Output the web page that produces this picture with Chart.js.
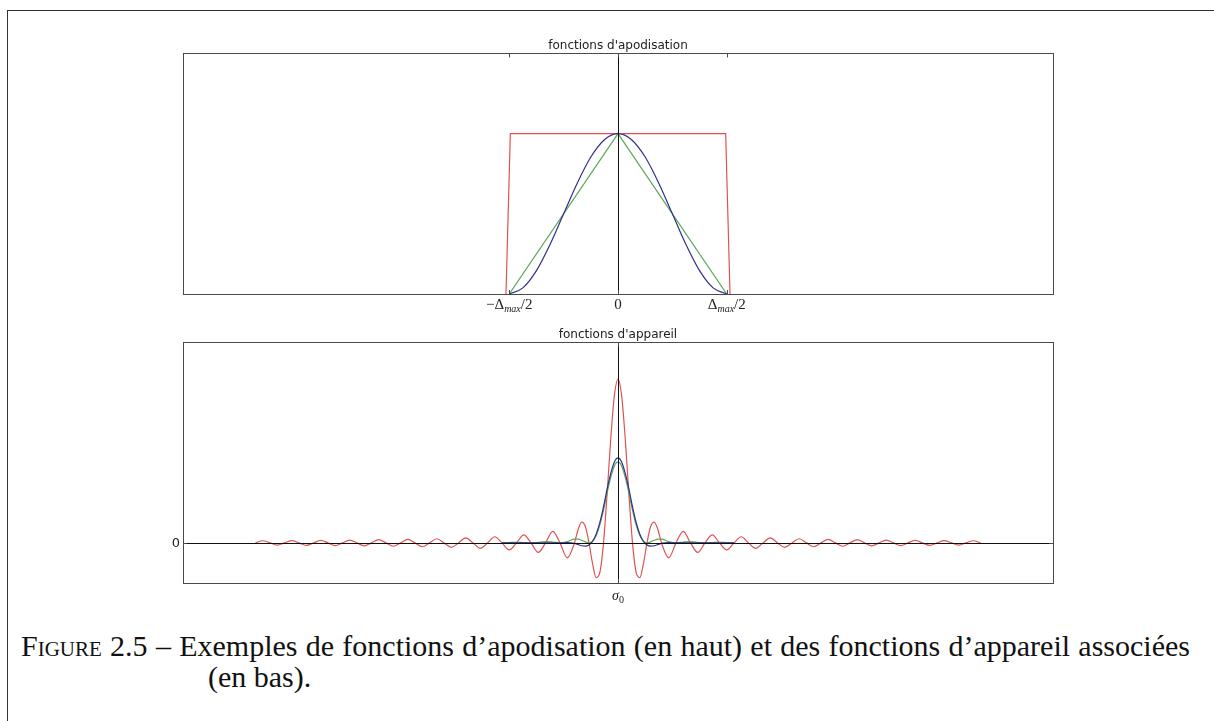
<!DOCTYPE html>
<html lang="fr">
<head>
<meta charset="utf-8">
<title>fonctions d'apodisation / fonctions d'appareil</title>
<script src="https://cdn.jsdelivr.net/npm/chart.js@4.4.1/dist/chart.umd.min.js"></script>
<style>
  html, body { margin: 0; padding: 0; background: #fff; }
  body { width: 1214px; height: 721px; position: relative; overflow: hidden; }
  .page { position: absolute; left: 7px; top: 10px; right: -10px; bottom: -10px;
          border-left: 1px solid #333; border-top: 1px solid #333; }
  canvas { position: absolute; left: 0; }
  #apoChart { top: 0; }
  #appChart { top: 320px; }
  .caption { position: absolute; left: 21px; top: 630px; width: 1169px; box-sizing: border-box;
             padding-left: 187px; text-indent: -187px; text-align: justify;
             font-family: 'Liberation Serif', 'Times New Roman', serif; font-size: 30px;
             line-height: 31px; color: #111; }
  .sc { font-variant: small-caps; }
</style>
</head>
<body>
<div class="page"></div>
<canvas id="apoChart" width="1214" height="320"></canvas>
<canvas id="appChart" width="1214" height="300"></canvas>
<div class="caption"><span class="sc">Figure</span> 2.5 – Exemples de fonctions d’apodisation (en haut) et des fonctions d’appareil associées (en bas).</div>

<script>
// ── TOP : apodisation functions (x in units of Δmax/2) ──
const rectX = [-1.03, -0.99, 0.99, 1.03];
const rectY = [0, 1, 1, 0];
const triX  = [-1, 0, 1];
const triY  = [0, 1, 0];
const hannX = [-1, -0.875, -0.75, -0.625, -0.5, -0.375, -0.25, -0.125, 0,
               0.125, 0.25, 0.375, 0.5, 0.625, 0.75, 0.875, 1];
const hannY = [0, 0.038, 0.146, 0.309, 0.5, 0.691, 0.854, 0.962, 1,
               0.962, 0.854, 0.691, 0.5, 0.309, 0.146, 0.038, 0];

const apoTickVals   = [-1, 0, 1];
const apoTickLabels = [[['−Δ','n'],['max','s'],['/2','n']], [['0','n']], [['Δ','n'],['max','s'],['/2','n']]];

// ── BOTTOM : instrument functions ──
const sincU = [-25,-24.5,-24,-23.5,-23,-22.5,-22,-21.5,-21,-20.5,-20,-19.5,-19,-18.5,-18,-17.5,-17,-16.5,-16,-15.5,
               -15,-14.5,-14,-13.5,-13,-12.5,-12,-11.5,-11,-10.5,-10,-9.5,-9,-8.5,-8,-7.5,-7,-6.5,-6,-5.5,
               -5,-4.5,-4,-3.5,-3,
               -2.75,-2.5,-2.25,-2,-1.75,-1.5,-1.25,-1,-0.75,-0.5,-0.25,0,0.25,0.5,0.75,1,1.25,1.5,1.75,2,2.25,2.5,2.75,
               3,3.5,4,4.5,5,5.5,6,6.5,7,7.5,8,8.5,9,9.5,10,10.5,11,11.5,12,12.5,
               13,13.5,14,14.5,15,15.5,16,16.5,17,17.5,18,18.5,19,19.5,20,20.5,21,21.5,22,22.5,
               23,23.5,24,24.5,25];
const sincRect = [0,0.026,0,-0.027,0,0.028,0,-0.030,0,0.031,0,-0.033,0,0.034,0,-0.036,0,0.039,0,-0.041,
                  0,0.044,0,-0.047,0,0.051,0,-0.055,0,0.061,0,-0.067,0,0.075,0,-0.085,0,0.098,0,-0.116,
                  0,0.141,0,-0.182,0,
                  0.164,0.255,0.200,0,-0.257,-0.424,-0.360,0,0.600,1.273,1.801,2.0,1.801,1.273,0.600,0,-0.360,-0.424,-0.257,0,0.200,0.255,0.164,
                  0,-0.182,0,0.141,0,-0.116,0,0.098,0,-0.085,0,0.075,0,-0.067,0,0.061,0,-0.055,0,0.051,
                  0,-0.047,0,0.044,0,-0.041,0,0.039,0,-0.036,0,0.034,0,-0.033,0,0.031,0,-0.030,0,0.028,
                  0,-0.027,0,0.026,0];

const coreU = [-8,-7.5,-7,-6.5,-6,-5.5,-5,-4.5,-4,-3.5,-3,
               -2.75,-2.5,-2.25,-2,-1.75,-1.5,-1.25,-1,-0.75,-0.5,-0.25,0,0.25,0.5,0.75,1,1.25,1.5,1.75,2,2.25,2.5,2.75,
               3,3.5,4,4.5,5,5.5,6,6.5,7,7.5,8];
const hannFT = [0,0,0,0,0,0,0,0,0,0.004,-0.005,
                -0.02,-0.035,-0.04,-0.025,0.02,0.11,0.25,0.44,0.66,0.85,0.99,1.04,0.99,0.85,0.66,0.44,0.25,0.11,0.02,-0.025,-0.04,-0.035,-0.02,
                -0.005,0.004,0,0,0,0,0,0,0,0,0];
const triFT  = [0,0.004,0.008,0.004,0,0.007,0.016,0.010,0,0.016,0.045,
                0.045,0.032,0.012,0,0.02,0.09,0.22,0.40,0.61,0.80,0.94,0.99,0.94,0.80,0.61,0.40,0.22,0.09,0.02,0,0.012,0.032,0.045,
                0.045,0.016,0,0.010,0.016,0.007,0,0.004,0.008,0.004,0];

const appTickVals    = [0];
const appTickLabels  = [[['σ','i'],['0','d']]];
const appYTickVals   = [0];
const appYTickLabels = ['0'];

const RED   = 'rgb(222,82,82)';
const GREEN = 'rgb(92,165,92)';
const BLUE  = 'rgb(48,48,140)';

const pts = (xs, ys) => xs.map((x, i) => ({ x, y: ys[i] }));

// ── draws "math" tick labels made of segments ──
function drawMath(ctx, segs, cx, baseY, size) {
  const fontOf = st => {
    const sz = (st === 's' || st === 'd') ? Math.round(size * 0.68) : size;
    const it = (st === 'i' || st === 's') ? 'italic ' : '';
    return `${it}${sz}px "Liberation Serif", serif`;
  };
  let w = 0;
  const ws = segs.map(([t, st]) => { ctx.font = fontOf(st); const m = ctx.measureText(t).width; w += m; return m; });
  let x = cx - w / 2;
  ctx.textAlign = 'left';
  ctx.textBaseline = 'alphabetic';
  segs.forEach(([t, st], i) => {
    ctx.font = fontOf(st);
    const dy = (st === 's' || st === 'd') ? size * 0.22 : 0;
    ctx.fillText(t, x, baseY + dy);
    x += ws[i];
  });
}

const axesBox = {
  id: 'axesBox',
  afterDatasetsDraw(chart, args, o) {
    const { ctx, chartArea: a, scales: { x, y } } = chart;
    ctx.save();
    // axis lines through zero
    ctx.strokeStyle = '#111';
    ctx.lineWidth = 1;
    const x0 = Math.round(x.getPixelForValue(0)) + 0.5;
    ctx.beginPath(); ctx.moveTo(x0, a.top); ctx.lineTo(x0, a.bottom); ctx.stroke();
    if (o.hline) {
      const y0 = Math.round(y.getPixelForValue(0)) + 0.5;
      ctx.beginPath(); ctx.moveTo(a.left, y0); ctx.lineTo(a.right, y0); ctx.stroke();
    }
    // frame
    ctx.strokeStyle = '#4a4a4a';
    ctx.strokeRect(Math.round(a.left) + 0.5, Math.round(a.top) + 0.5,
                   Math.round(a.right - a.left), Math.round(a.bottom - a.top));
    // x ticks (inside, top and bottom) + labels
    ctx.fillStyle = '#222';
    o.xVals.forEach((v, i) => {
      const px = Math.round(x.getPixelForValue(v)) + 0.5;
      ctx.beginPath();
      ctx.moveTo(px, a.bottom); ctx.lineTo(px, a.bottom - 4);
      ctx.moveTo(px, a.top);    ctx.lineTo(px, a.top + 4);
      ctx.stroke();
      drawMath(ctx, o.xLabels[i], x.getPixelForValue(v), a.bottom + o.xLabelDy, o.xSize);
    });
    // y ticks + labels
    (o.yVals || []).forEach((v, i) => {
      const py = Math.round(y.getPixelForValue(v)) + 0.5;
      ctx.beginPath();
      ctx.moveTo(a.left, py);  ctx.lineTo(a.left + 4, py);
      ctx.moveTo(a.right, py); ctx.lineTo(a.right - 4, py);
      ctx.stroke();
      ctx.font = '13px "DejaVu Sans", sans-serif';
      ctx.textAlign = 'right';
      ctx.textBaseline = 'middle';
      ctx.fillText(o.yLabels[i], a.left - 3, py);
    });
    ctx.restore();
  }
};

const titleOpts = (text, top) => ({
  display: true, text, color: '#222',
  font: { family: 'DejaVu Sans', size: 12, weight: 'normal' },
  padding: { top, bottom: 0 }
});

new Chart(document.getElementById('apoChart'), {
  type: 'line',
  data: {
    datasets: [
      { data: pts(hannX, hannY), borderColor: BLUE,  cubicInterpolationMode: 'monotone' },
      { data: pts(triX, triY),   borderColor: GREEN, tension: 0 },
      { data: pts(rectX, rectY), borderColor: RED,   tension: 0 }
    ]
  },
  options: {
    responsive: false, animation: false, devicePixelRatio: 1,
    layout: { padding: { left: 183, right: 161, top: 0, bottom: 26 } },
    elements: { point: { radius: 0 }, line: { borderWidth: 1.2, fill: false } },
    scales: {
      x: { type: 'linear', min: -4, max: 4, display: false },
      y: { type: 'linear', min: 0, max: 1.5, display: false }
    },
    plugins: {
      legend: { display: false }, tooltip: { enabled: false },
      title: titleOpts("fonctions d'apodisation", 39),
      axesBox: { hline: false, xVals: apoTickVals, xLabels: apoTickLabels, xLabelDy: 15, xSize: 15 }
    }
  },
  plugins: [axesBox]
});

new Chart(document.getElementById('appChart'), {
  type: 'line',
  data: {
    datasets: [
      { data: pts(coreU, hannFT),   borderColor: BLUE,  cubicInterpolationMode: 'monotone' },
      { data: pts(coreU, triFT),    borderColor: GREEN, cubicInterpolationMode: 'monotone' },
      { data: pts(sincU, sincRect), borderColor: RED,   cubicInterpolationMode: 'monotone' }
    ]
  },
  options: {
    responsive: false, animation: false, devicePixelRatio: 1,
    layout: { padding: { left: 183, right: 161, top: 0, bottom: 37 } },
    elements: { point: { radius: 0 }, line: { borderWidth: 1.2, fill: false } },
    scales: {
      x: { type: 'linear', min: -30, max: 30, display: false },
      y: { type: 'linear', min: -0.49, max: 2.45, display: false }
    },
    plugins: {
      legend: { display: false }, tooltip: { enabled: false },
      title: titleOpts("fonctions d'appareil", 8),
      axesBox: { hline: true, xVals: appTickVals, xLabels: appTickLabels, xLabelDy: 17, xSize: 14,
                 yVals: appYTickVals, yLabels: appYTickLabels }
    }
  },
  plugins: [axesBox]
});
</script>
</body>
</html>
